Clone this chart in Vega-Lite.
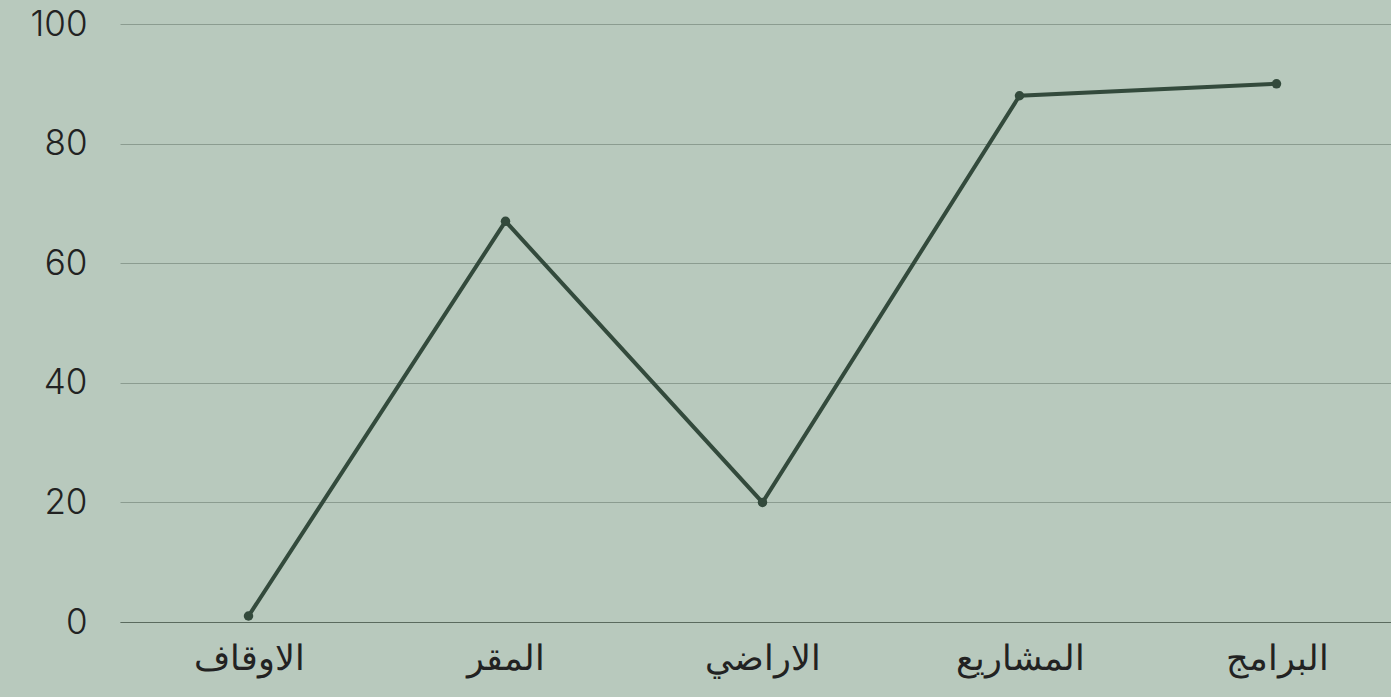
{
  "$schema": "https://vega.github.io/schema/vega-lite/v6.json",
  "autosize": {"type": "none"},
  "width": 1285,
  "height": 598,
  "padding": {"left": 120, "top": 24, "right": 0, "bottom": 75},
  "background": "#b8c9bd",
  "config": {
    "view": {"stroke": null},
    "font": "Inter, DejaVu Sans"
  },
  "data": {
    "values": [
      {"category": "الاوقاف", "value": 1},
      {"category": "المقر", "value": 67},
      {"category": "الاراضي", "value": 20},
      {"category": "المشاريع", "value": 88},
      {"category": "البرامج", "value": 90}
    ]
  },
  "encoding": {
    "x": {
      "field": "category",
      "type": "ordinal",
      "sort": null,
      "scale": {"type": "point", "padding": 0.5},
      "axis": {
        "title": null,
        "labelAngle": 0,
        "labelFontSize": 35,
        "labelFontWeight": 300,
        "labelColor": "#222222",
        "labelPadding": 19,
        "ticks": false,
        "domain": true,
        "domainColor": "#5a6a5e",
        "domainWidth": 1.2,
        "labelFont": "DejaVu Sans"
      }
    },
    "y": {
      "field": "value",
      "type": "quantitative",
      "scale": {"domain": [0, 100], "nice": false},
      "axis": {
        "title": null,
        "values": [0, 20, 40, 60, 80, 100],
        "labelFontSize": 35,
        "labelFontWeight": 300,
        "labelColor": "#222222",
        "labelPadding": 33,
        "ticks": false,
        "domain": false,
        "gridColor": "#8b9c90",
        "gridWidth": 1
      }
    }
  },
  "layer": [
    {"mark": {"type": "line", "color": "#334a3c", "strokeWidth": 4}},
    {"mark": {"type": "point", "filled": true, "color": "#334a3c", "size": 90, "opacity": 1}}
  ]
}
